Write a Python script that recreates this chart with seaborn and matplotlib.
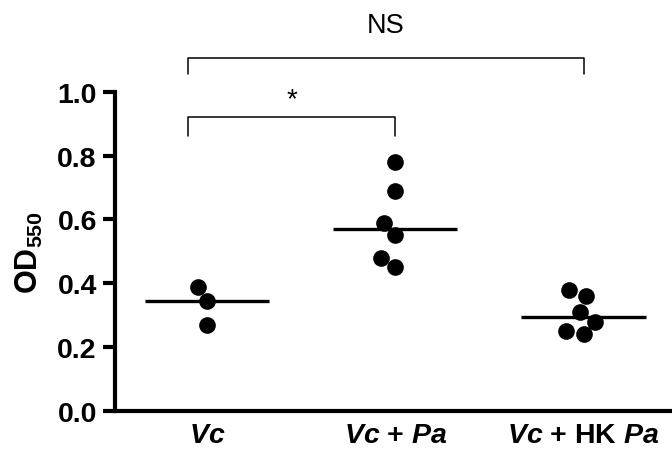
import numpy as np
import pandas as pd
import matplotlib
matplotlib.use("Agg")
import matplotlib.pyplot as plt
import seaborn as sns

# data
groups = ["Vc", "Vc + Pa", "Vc + HK Pa"]
vc = [0.39, 0.345, 0.27]
vc_pa = [0.78, 0.69, 0.59, 0.55, 0.48, 0.45]
vc_hk_pa = [0.38, 0.36, 0.31, 0.28, 0.25, 0.24]
tick_labels = [r"$\mathit{Vc}$", r"$\mathit{Vc}$ + $\mathit{Pa}$",
               r"$\mathit{Vc}$ + HK $\mathit{Pa}$"]
y_ticks = [0.0, 0.2, 0.4, 0.6, 0.8, 1.0]

df = pd.DataFrame({
    "group": [groups[0]] * len(vc) + [groups[1]] * len(vc_pa) + [groups[2]] * len(vc_hk_pa),
    "od": vc + vc_pa + vc_hk_pa,
})

sns.set_style("ticks")
plt.rcParams["font.family"] = ["Liberation Sans", "DejaVu Sans"]
plt.rcParams["mathtext.fontset"] = "custom"
plt.rcParams["mathtext.rm"] = "Liberation Sans:bold"
plt.rcParams["mathtext.bf"] = "Liberation Sans:bold"
plt.rcParams["mathtext.it"] = "Liberation Sans:italic:bold"
for key in ["text.color", "axes.labelcolor", "xtick.color", "ytick.color", "axes.edgecolor"]:
    plt.rcParams[key] = "black"

fig = plt.figure(figsize=(6.72, 4.64), dpi=100)
ax = fig.add_axes([0.171, 0.112, 0.829, 0.688])

# median lines
sns.boxplot(data=df, x="group", y="od", order=groups, ax=ax,
            showbox=False, showcaps=False, showfliers=False,
            whiskerprops={"visible": False}, whis=0,
            medianprops={"color": "black", "linewidth": 2.4},
            width=0.66, zorder=2)

# points
sns.swarmplot(data=df, x="group", y="od", order=groups, ax=ax,
              color="black", size=12, zorder=3)

ax.set_xlim(-0.49, 2.47)
ax.set_ylim(0, 1.0)
ax.set_yticks(y_ticks)
ax.set_yticklabels([f"{t:.1f}" for t in y_ticks], fontsize=20.5, fontweight="bold")
ax.set_xticks(range(len(groups)))
ax.set_xticklabels(tick_labels, fontsize=20.5, fontweight="bold")
ax.tick_params(axis="x", length=0, pad=8)
ax.tick_params(axis="y", length=9, width=3, pad=4)
ax.set_xlabel("")
ax.set_ylabel(r"OD$_{550}$", fontsize=22, fontweight="bold", labelpad=9)

for side in ["left", "bottom"]:
    ax.spines[side].set_linewidth(3)
sns.despine(ax=ax)

# significance brackets
ax.plot([-0.1, -0.1, 1, 1], [0.862, 0.922, 0.922, 0.862], color="black",
        linewidth=1.1, clip_on=False)
ax.text(0.45, 0.935, "*", ha="center", va="bottom", fontsize=20)
ax.plot([-0.1, -0.1, 2, 2], [1.056, 1.107, 1.107, 1.056], color="black",
        linewidth=1.1, clip_on=False)
ax.text(0.95, 1.17, "NS", ha="center", va="bottom", fontsize=19.5)

fig.savefig("out.png", dpi=100)
